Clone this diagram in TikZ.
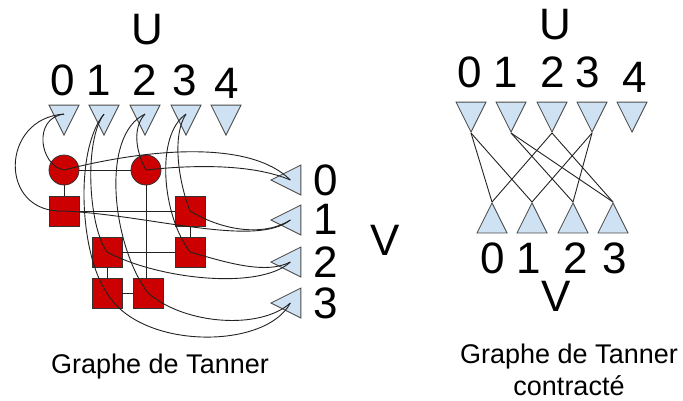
\documentclass[tikz,border=0pt]{standalone}
\usepackage{fontspec}
\setmainfont{Liberation Sans}
\usetikzlibrary{shapes.geometric,calc}
\definecolor{triblue}{HTML}{CFE2F3}
\definecolor{triline}{HTML}{4A4A4A}
\definecolor{chkred}{HTML}{CC0000}
\definecolor{wirecol}{HTML}{222222}
\begin{document}
\begin{tikzpicture}[x=1pt, y=-1pt,
    tri/.style={isosceles triangle, isosceles triangle apex angle=53.13,
      minimum width=30pt, minimum height=30pt, inner sep=0pt,
      fill=triblue, draw=triline, line width=0.8pt, anchor=apex},
    chk/.style={fill=chkred, draw=black!80, line width=0.8pt, inner sep=0pt,
      minimum size=30pt},
    big/.style={font=\fontsize{44}{48}\selectfont, inner sep=0pt},
    legend/.style={font=\fontsize{27}{32}\selectfont, align=center, inner sep=0pt},
    wire/.style={draw=wirecol, line width=0.9pt}]
  \useasboundingbox (0,0) rectangle (683,400);
  \foreach \i/\x in {0/64,1/104,2/145,3/186,4/226} {
    \node[tri, shape border rotate=270] (u\i) at (\x,136) {};
    \coordinate (pu\i) at ($(u\i.lower side)!.3!(u\i.apex)$);
  }
  \foreach \i/\y in {0/180,1/220,2/262,3/303} {
    \node[tri, shape border rotate=180] (v\i) at (270,\y) {};
    \coordinate (pv\i) at ($(v\i.apex)!.65!(v\i.lower side)$);
  }
  \node[chk, circle] (c0) at (64,170) {};
  \node[chk, circle] (c2) at (146,170) {};
  \foreach \n/\x/\y in {sa/64/211, sb/190/211, sc/107/252, sd/190/252,
      se/107/293, sf/148/293}
    \node[chk] (\n) at (\x,\y) {};
  \draw[wire] (c0) -- (c2) (c0) -- (sa) (sa) -- (sb) (sb) -- (sd) (sc) -- (sd)
    (sc) -- (se) (se) -- (sf) (c2) -- (c2 |- sf.north);
  \foreach \s/\ax/\ay/\bx/\by/\e in {pu0/-32/4/-24/-4/c0.center,
      pu0/-64/4/-66/3/sa.center, c0.center/86/-22/-40/-40/pv0,
      c2.center/54/-6/-35/-15/pv0, sa.center/86/4/-35/28/pv1,
      sb.center/35/21/-25/16/pv1, pu3/-14/21/-12/-31/sb.center,
      pu3/-31/21/-28/-37/sd.center, pu2/-13/14/-10/-18/c2.center,
      pu2/-45/21/-36/-48/sf.center, pu1/-20/26/-19/-27/sc.center,
      pu1/-30/36/-27/-38/se.center, sc.center/53/28/-30/28/pv2,
      sd.center/35/10/-25/13/pv2, se.center/33/57/-25/47/pv3,
      sf.center/37/32/-30/27/pv3}
    \draw[wire] (\s) .. controls +(\ax,\ay) and +(\bx,\by) .. (\e);
  \node[big] (ul) at (147,30) {U};
  \foreach \i/\x/\y in {0/63/80,1/99/80,2/145/80,3/185/80,4/227/83}
    \node[big] (lu\i) at (\x,\y) {\i};
  \foreach \i/\y in {0/180,1/219,2/262,3/303}
    \node[big] (lv\i) at (326,\y) {\i};
  \node[big] (vl) at (385,240) {V};
  \node[legend] (capl) at (160,367) {Graphe de Tanner};
  \foreach \i/\x in {0/471,1/511,2/552,3/592,4/632}
    \node[tri, shape border rotate=270] (ru\i) at (\x,133) {};
  \foreach \i/\x in {0/492,1/532,2/573,3/613}
    \node[tri, shape border rotate=90] (rv\i) at (\x,202) {};
  \foreach \u/\v in {0/0,0/1,1/2,1/3,2/0,2/3,3/1,3/2}
    \draw[wire] (ru\u.apex) -- (rv\v.apex);
  \node[big] (ur) at (555,25) {U};
  \foreach \i/\x/\y in {0/470/72,1/506/72,2/553/72,3/588/72,4/635/77}
    \node[big] (ru\i l) at (\x,\y) {\i};
  \foreach \i/\x in {0/493,1/529,2/576,3/615}
    \node[big] (rv\i l) at (\x,258) {\i};
  \node[big] (vr) at (556,296) {V};
  \node[legend] (capr) at (569,370) {Graphe de Tanner\\contracté};
\end{tikzpicture}
\end{document}
